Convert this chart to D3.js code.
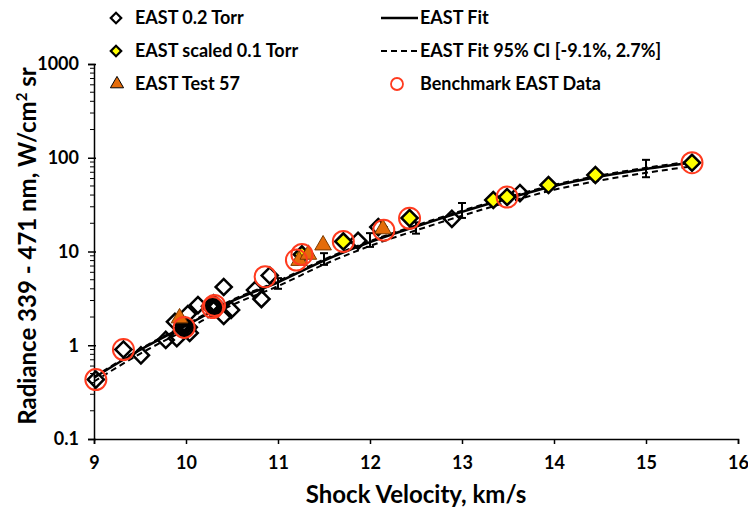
<!DOCTYPE html>
<html>
<head>
<meta charset="utf-8">
<script src="https://cdn.jsdelivr.net/npm/d3@7"></script>
<style>
  body { margin: 0; background: #fff; }
  svg { display: block; font-family: Lato, "Open Sans", sans-serif; font-weight: bold; }
</style>
</head>
<body>
<svg id="chart" width="748" height="512"></svg>
<script>
// ---------- data ----------
const east02V = [9.02, 9.32, 9.51, 9.78, 9.90, 9.88, 9.96, 9.99, 10.01, 10.00, 9.98, 9.97, 10.03, 10.04, 10.02, 10.13, 10.28, 10.31, 10.30, 10.32, 10.29, 10.26, 10.34, 10.30, 10.30, 10.41, 10.49, 10.41, 10.75, 10.82, 10.91, 11.87, 12.09, 12.89, 13.63];
const east02R = [0.43, 0.90, 0.78, 1.14, 1.19, 1.78, 1.50, 1.62, 1.48, 1.58, 1.54, 1.66, 1.56, 1.35, 2.15, 2.68, 2.55, 2.70, 2.48, 2.58, 2.64, 2.60, 2.60, 2.80, 2.42, 4.18, 2.38, 2.05, 3.88, 3.11, 5.55, 13.0, 18.2, 22.3, 42.0];

const scaledV = [11.26, 11.71, 12.43, 13.34, 13.49, 13.94, 14.45, 15.50];
const scaledR = [9.3, 12.8, 22.7, 35.4, 38.1, 51.2, 65.5, 88.5];

const test57V = [9.93, 11.23, 11.33, 11.49, 12.14];
const test57R = [1.95, 8.0, 9.3, 11.7, 17.4];

const benchV = [9.02, 9.32, 9.98, 10.29, 10.31, 10.86, 11.20, 11.26, 11.71, 12.15, 12.43, 13.49, 15.50];
const benchR = [0.43, 0.90, 1.55, 2.52, 2.66, 5.38, 8.1, 9.3, 12.8, 16.9, 22.6, 38.1, 88.5];

const fitV  = [9.0, 9.5, 10.0, 10.5, 11.0, 11.5, 12.0, 12.5, 13.0, 13.5, 14.0, 14.5, 15.0, 15.5];
const fitR  = [0.45, 0.89, 1.62, 2.95, 4.7, 8.0, 12.6, 18.5, 26.5, 37.0, 50.0, 63.0, 76.0, 89.0];
const ciLoR = [0.41, 0.81, 1.47, 2.68, 4.27, 7.27, 11.45, 16.8, 24.1, 33.6, 45.5, 57.3, 69.1, 80.9];
const ciHiR = [0.46, 0.91, 1.66, 3.03, 4.83, 8.22, 12.9, 19.0, 27.2, 38.0, 51.4, 64.7, 78.1, 91.4];

const errV  = [11.0, 11.5, 12.0, 12.5, 13.0, 15.0];
const errLo = [4.0, 7.2, 11.2, 15.5, 22.8, 62.0];
const errHi = [5.2, 9.6, 15.7, 20.5, 32.9, 95.0];

const xTicks = [9, 10, 11, 12, 13, 14, 15, 16];
const yTicks = [0.1, 1, 10, 100, 1000];
const yTickLabels = ["0.1", "1", "10", "100", "1000"];

const legendLeft  = ["EAST 0.2 Torr", "EAST scaled 0.1 Torr", "EAST Test 57"];
const legendRight = ["EAST Fit", "EAST Fit 95% CI [-9.1%, 2.7%]", "Benchmark EAST Data"];

// ---------- drawing ----------
const svg = d3.select("#chart");
const x = d3.scaleLinear().domain([9, 16]).range([94, 738]);
const y = d3.scaleLog().domain([0.1, 1000]).range([439, 64]);

const ORANGE = "#E46C0A", RED = "#FF3B1F", YELLOW = "#FFFF00";

// y axis
const yAxis = d3.axisLeft(y).tickValues(yTicks).tickFormat((d, i) => yTickLabels[i]).tickSize(6).tickPadding(9);
const gy = svg.append("g").attr("transform", "translate(94,0)").call(yAxis);
gy.select(".domain").attr("stroke", "#000").attr("stroke-width", 1.5);
gy.selectAll(".tick line").attr("stroke", "#000").attr("stroke-width", 1.5).attr("x2", -6).attr("x1", 2);
gy.selectAll(".tick text").attr("font-size", 18).attr("font-weight", "bold").attr("fill", "#000").attr("font-family", "Lato, sans-serif");
// minor ticks
const minor = [];
for (let e = -1; e < 3; e++) for (let m = 2; m <= 9; m++) minor.push(m * Math.pow(10, e));
svg.append("g").selectAll("line").data(minor).join("line")
  .attr("x1", 90).attr("x2", 94).attr("y1", d => y(d)).attr("y2", d => y(d))
  .attr("stroke", "#000").attr("stroke-width", 1);

// x axis
const xAxis = d3.axisBottom(x).tickValues(xTicks).tickFormat(d3.format("d")).tickSize(5).tickPadding(12);
const gx = svg.append("g").attr("transform", "translate(0,439)").call(xAxis);
gx.select(".domain").attr("stroke", "#000").attr("stroke-width", 1.5);
gx.selectAll(".tick line").attr("stroke", "#000").attr("stroke-width", 1.5);
gx.selectAll(".tick text").attr("font-size", 18).attr("font-weight", "bold").attr("fill", "#000").attr("font-family", "Lato, sans-serif");

// axis titles
svg.append("text").attr("x", 416).attr("y", 503).attr("text-anchor", "middle")
  .attr("font-size", 24).text("Shock Velocity, km/s");
const yt = svg.append("text").attr("transform", "translate(36,246) rotate(-90)").attr("text-anchor", "middle").attr("font-size", 24);
yt.append("tspan").text("Radiance 339 - 471 nm, W/cm");
yt.append("tspan").attr("font-size", 15).attr("dy", -9).text("2");
yt.append("tspan").attr("dy", 9).text(" sr");

// fit lines
const line = d3.line().x(d => x(d[0])).y(d => y(d[1])).curve(d3.curveMonotoneX);
svg.append("path").attr("d", line(d3.zip(fitV, ciLoR))).attr("fill", "none").attr("stroke", "#000").attr("stroke-width", 2).attr("stroke-dasharray", "6,4");
svg.append("path").attr("d", line(d3.zip(fitV, ciHiR))).attr("fill", "none").attr("stroke", "#000").attr("stroke-width", 2).attr("stroke-dasharray", "6,4");
svg.append("path").attr("d", line(d3.zip(fitV, fitR))).attr("fill", "none").attr("stroke", "#000").attr("stroke-width", 2.5);

// error bars
const eb = svg.append("g").attr("stroke", "#000").attr("stroke-width", 2);
d3.zip(errV, errLo, errHi).forEach(([v, lo, hi]) => {
  eb.append("line").attr("x1", x(v)).attr("x2", x(v)).attr("y1", y(lo)).attr("y2", y(hi));
  eb.append("line").attr("x1", x(v) - 4).attr("x2", x(v) + 4).attr("y1", y(lo)).attr("y2", y(lo));
  eb.append("line").attr("x1", x(v) - 4).attr("x2", x(v) + 4).attr("y1", y(hi)).attr("y2", y(hi));
});

const diamond = d3.symbol().type(d3.symbolSquare).size(130);
// open diamonds
svg.append("g").selectAll("path").data(d3.zip(east02V, east02R)).join("path")
  .attr("d", diamond).attr("transform", d => `translate(${x(d[0])},${y(d[1])}) rotate(45)`)
  .attr("fill", "none").attr("stroke", "#000").attr("stroke-width", 2.5);
// yellow diamonds
svg.append("g").selectAll("path").data(d3.zip(scaledV, scaledR)).join("path")
  .attr("d", diamond).attr("transform", d => `translate(${x(d[0])},${y(d[1])}) rotate(45)`)
  .attr("fill", YELLOW).attr("stroke", "#000").attr("stroke-width", 2.5);
// triangles
const tri = d3.symbol().type(d3.symbolTriangle).size(120);
svg.append("g").selectAll("path").data(d3.zip(test57V, test57R)).join("path")
  .attr("d", tri).attr("transform", d => `translate(${x(d[0])},${y(d[1])})`)
  .attr("fill", ORANGE).attr("stroke", "#7a3a00").attr("stroke-width", 1);
// benchmark circles
svg.append("g").selectAll("circle").data(d3.zip(benchV, benchR)).join("circle")
  .attr("cx", d => x(d[0])).attr("cy", d => y(d[1])).attr("r", 10.5)
  .attr("fill", "none").attr("stroke", RED).attr("stroke-width", 2);

// legend
const lg = svg.append("g").attr("font-size", 18);
const rowsY = [18, 51, 84];
lg.append("path").attr("d", d3.symbol().type(d3.symbolSquare).size(55)).attr("transform", `translate(116,${rowsY[0]}) rotate(45)`)
  .attr("fill", "none").attr("stroke", "#000").attr("stroke-width", 2.2);
lg.append("path").attr("d", d3.symbol().type(d3.symbolSquare).size(55)).attr("transform", `translate(116,${rowsY[1]}) rotate(45)`)
  .attr("fill", YELLOW).attr("stroke", "#000").attr("stroke-width", 2.2);
lg.append("path").attr("d", d3.symbol().type(d3.symbolTriangle).size(75)).attr("transform", `translate(117,${rowsY[2]})`)
  .attr("fill", ORANGE).attr("stroke", "#000").attr("stroke-width", 1);
legendLeft.forEach((t, i) => lg.append("text").attr("x", 135).attr("y", rowsY[i]).attr("dy", "0.35em").text(t));

lg.append("line").attr("x1", 381).attr("x2", 418).attr("y1", rowsY[0]).attr("y2", rowsY[0]).attr("stroke", "#000").attr("stroke-width", 2.5);
lg.append("line").attr("x1", 381).attr("x2", 418).attr("y1", rowsY[1]).attr("y2", rowsY[1]).attr("stroke", "#000").attr("stroke-width", 2).attr("stroke-dasharray", "6,4");
lg.append("circle").attr("cx", 397).attr("cy", rowsY[2]).attr("r", 6).attr("fill", "none").attr("stroke", RED).attr("stroke-width", 1.8);
legendRight.forEach((t, i) => lg.append("text").attr("x", 420).attr("y", rowsY[i]).attr("dy", "0.35em").text(t));
</script>
</body>
</html>
